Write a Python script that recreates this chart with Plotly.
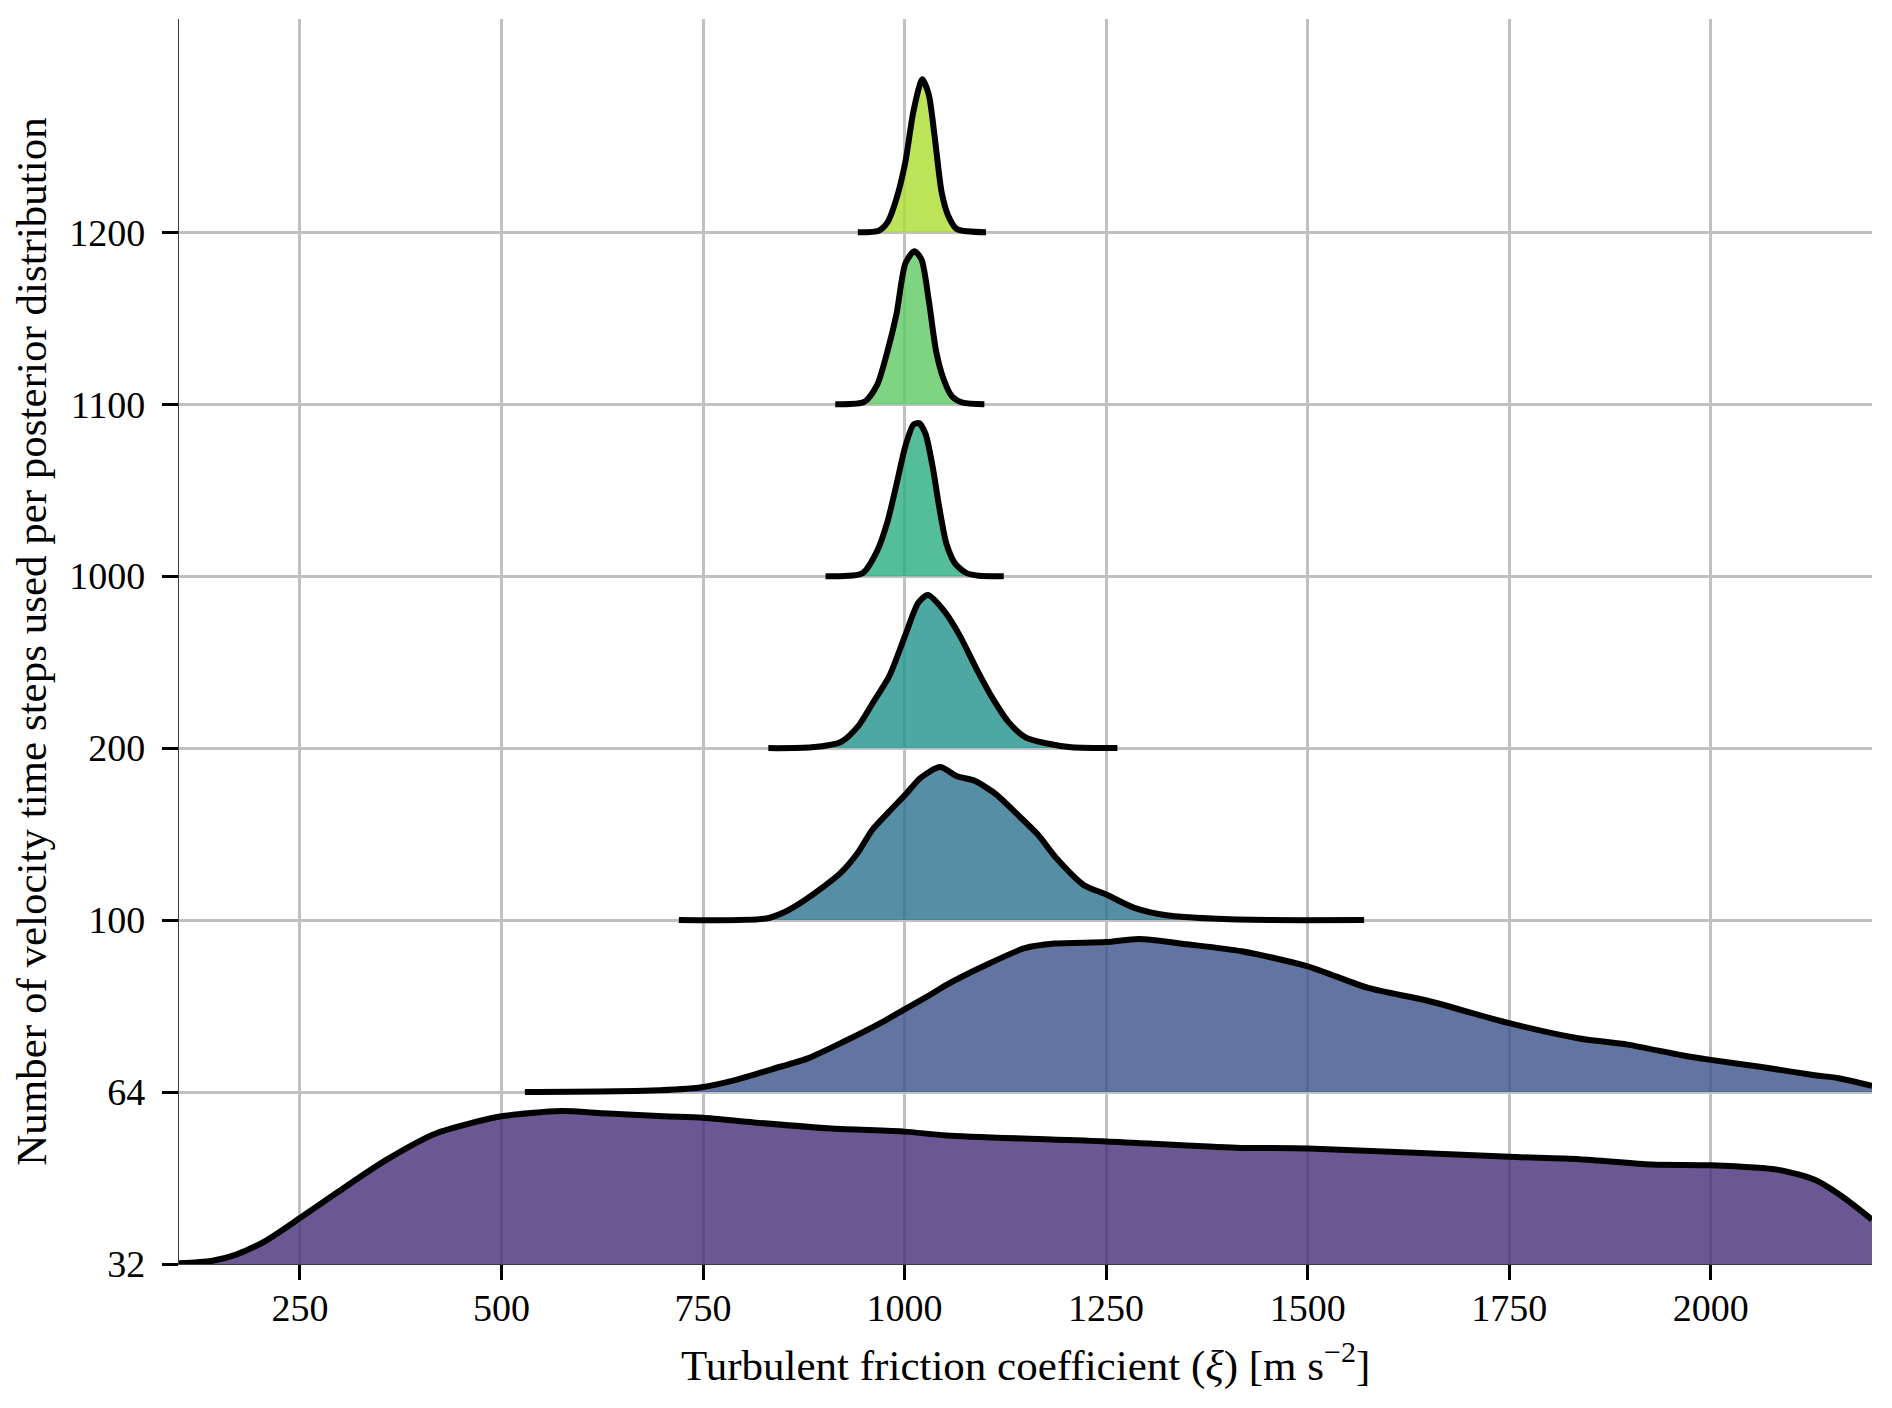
import plotly.graph_objects as go

steps = ['32', '64', '100', '200', '1000', '1100', '1200']

xi_32 = [100, 140, 170, 207, 250, 297, 357, 417, 462, 500, 574, 626, 701, 750,
         813, 910, 1000, 1052, 1250, 1411, 1501, 1750, 1837, 1927, 2000, 2084,
         2129, 2166, 2200]
dens_32 = [0.005, 0.02, 0.06, 0.15, 0.30, 0.47, 0.68, 0.85, 0.92, 0.965, 1.0,
           0.985, 0.965, 0.955, 0.925, 0.885, 0.865, 0.84, 0.80, 0.76, 0.755,
           0.70, 0.685, 0.65, 0.645, 0.615, 0.55, 0.43, 0.29]

xi_64 = [529, 686, 746, 791, 836, 880, 925, 970, 1000, 1030, 1052, 1097, 1149,
         1186, 1250, 1291, 1351, 1418, 1501, 1575, 1650, 1750, 1837, 1897, 1964,
         2000, 2061, 2129, 2159, 2200]
dens_64 = [0.0, 0.01, 0.03, 0.08, 0.15, 0.22, 0.33, 0.45, 0.54, 0.63, 0.70,
           0.82, 0.94, 0.97, 0.98, 1.0, 0.965, 0.92, 0.82, 0.68, 0.595, 0.45,
           0.35, 0.31, 0.24, 0.21, 0.165, 0.11, 0.09, 0.04]

xi_100 = [720, 828, 852, 876, 900, 921, 942, 960, 981, 1001, 1020, 1044, 1065,
          1087, 1114, 1138, 1165, 1189, 1222, 1249, 1285, 1327, 1381, 1453, 1570]
dens_100 = [0.0, 0.01, 0.055, 0.13, 0.22, 0.31, 0.44, 0.59, 0.71, 0.82, 0.93,
            1.0, 0.94, 0.91, 0.82, 0.70, 0.56, 0.40, 0.23, 0.17, 0.08, 0.03,
            0.01, 0.0, 0.0]

xi_200 = [831, 885, 921, 942, 960, 981, 1001, 1017, 1029, 1050, 1069, 1090,
          1111, 1129, 1150, 1177, 1207, 1264]
dens_200 = [0.0, 0.005, 0.04, 0.14, 0.29, 0.47, 0.74, 0.95, 1.0, 0.89, 0.73,
            0.51, 0.31, 0.17, 0.07, 0.03, 0.005, 0.0]

xi_1000 = [902, 948, 966, 979, 990, 1001, 1011, 1018, 1026, 1035, 1043, 1052,
           1063, 1077, 1092, 1123]
dens_1000 = [0.0, 0.02, 0.165, 0.36, 0.60, 0.85, 0.99, 1.0, 0.93, 0.71, 0.45,
             0.21, 0.08, 0.02, 0.003, 0.0]

xi_1100 = [914, 950, 966, 979, 990, 1001, 1012, 1021, 1030, 1039, 1048, 1059,
           1072, 1099]
dens_1100 = [0.0, 0.015, 0.126, 0.35, 0.59, 0.92, 1.0, 0.945, 0.68, 0.35, 0.17,
             0.05, 0.01, 0.0]

xi_1200 = [942, 968, 979, 990, 1001, 1011, 1022, 1030, 1037, 1046, 1054, 1065,
           1101]
dens_1200 = [0.0, 0.01, 0.066, 0.22, 0.46, 0.79, 1.0, 0.90, 0.64, 0.26, 0.11,
             0.02, 0.0]

# seaborn viridis(7), drawn at alpha 0.8
colours = ['#472d7b', '#3b528b', '#2c728e', '#21918c', '#28ae80', '#5ec962',
           '#addc30']

x_ticks = [250, 500, 750, 1000, 1250, 1500, 1750, 2000]

ridge_height = 0.89
font = 'Liberation Serif'


def rgba(hexcol, alpha):
    r, g, b = (int(hexcol[i:i + 2], 16) for i in (1, 3, 5))
    return 'rgba(%d,%d,%d,%.2f)' % (r, g, b, alpha)


ridges = [(xi_32, dens_32), (xi_64, dens_64), (xi_100, dens_100),
          (xi_200, dens_200), (xi_1000, dens_1000), (xi_1100, dens_1100),
          (xi_1200, dens_1200)]

fig = go.Figure()
for level, (xs, ds) in enumerate(ridges):
    # baseline the fill closes onto
    fig.add_trace(go.Scatter(
        x=[xs[0], xs[-1]], y=[level, level], mode='lines',
        line=dict(width=0), hoverinfo='skip', showlegend=False))
    fig.add_trace(go.Scatter(
        x=xs, y=[level + ridge_height * d for d in ds], mode='lines',
        line=dict(color='black', width=6, shape='spline', smoothing=0.7),
        fill='tonexty', fillcolor=rgba(colours[level], 0.8),
        name=steps[level], showlegend=False))

tick_font = dict(family=font, size=38, color='black')
title_font = dict(family=font, size=43, color='black')

# x title as an annotation so it can sit a little lower than plotly puts it
fig.add_annotation(
    text='Turbulent friction coefficient (<i>ξ</i>) [m s<sup>−2</sup>]',
    xref='paper', yref='paper', x=0.5, y=0, xanchor='center',
    yanchor='middle', yshift=-98, showarrow=False, font=title_font)

fig.update_layout(
    width=1884, height=1400,
    paper_bgcolor='white', plot_bgcolor='white',
    margin=dict(l=171, r=20, t=11, b=144, autoexpand=False),
    font=tick_font,
    xaxis=dict(
        range=[100, 2200], tickvals=x_ticks,
        showgrid=True, gridcolor='#c0c0c0', gridwidth=2.5, zeroline=False,
        showline=True, linecolor='#3d3d3d', linewidth=1.3,
        ticks='outside', ticklen=15, tickwidth=3, tickcolor='black',
        tickfont=tick_font, automargin=False, ticklabelstandoff=-5),
    yaxis=dict(
        range=[0, 7.24], tickvals=list(range(len(steps))), ticktext=steps,
        showgrid=True, gridcolor='#c0c0c0', gridwidth=2.5, zeroline=False,
        showline=True, linecolor='#3d3d3d', linewidth=1.3,
        ticks='outside', ticklen=16, tickwidth=3, tickcolor='black',
        tickfont=tick_font, automargin=False, ticklabelstandoff=9,
        title=dict(text='Number of velocity time steps used per posterior '
                        'distribution',
                   font=title_font, standoff=9)),
)

fig.write_html('out.html')
